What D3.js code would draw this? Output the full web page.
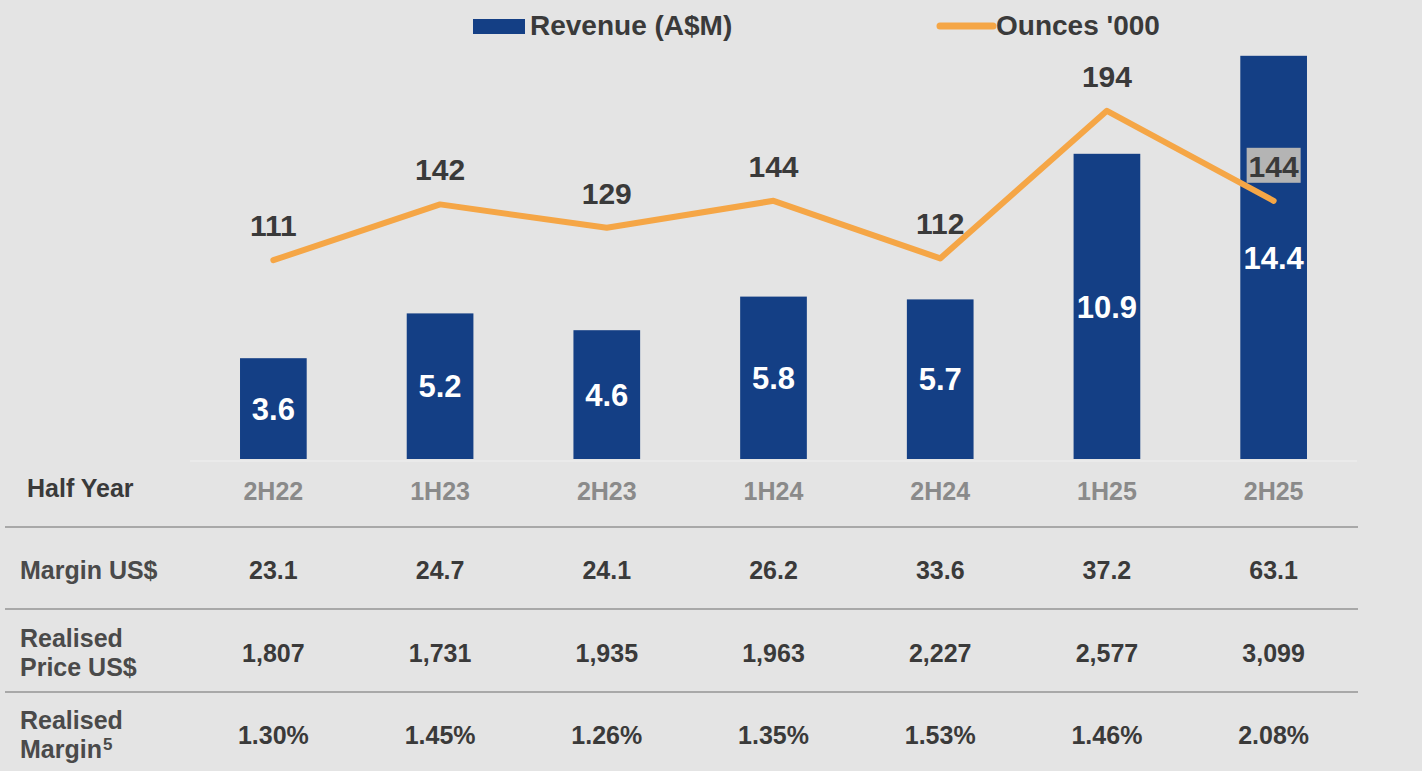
<!DOCTYPE html>
<html><head><meta charset="utf-8">
<script src="https://cdn.jsdelivr.net/npm/d3@7"></script>
<style>
html,body{margin:0;padding:0;background:#e4e4e4;}
svg{display:block;}
</style></head>
<body>
<script>
const categories = ["2H22","1H23","2H23","1H24","2H24","1H25","2H25"];
const revenue = [3.6,5.2,4.6,5.8,5.7,10.9,14.4];
const ounces = [111,142,129,144,112,194,144];
const marginUS = ["23.1","24.7","24.1","26.2","33.6","37.2","63.1"];
const realisedPrice = ["1,807","1,731","1,935","1,963","2,227","2,577","3,099"];
const realisedMargin = ["1.30%","1.45%","1.26%","1.35%","1.53%","1.46%","2.08%"];

const W = 1422, H = 771;
const svg = d3.select("body").append("svg").attr("width", W).attr("height", H);
svg.append("rect").attr("width", W).attr("height", H).attr("fill", "#e4e4e4");

const font = "'Liberation Sans', Arial, sans-serif";
const dark = "#3a3a3a";

const x = d3.scaleBand().domain(categories).range([190, 1357]).paddingInner(0.6).paddingOuter(0.3);
const yBar = d3.scaleLinear().domain([0, 16]).range([459, 11]);
const yLine = d3.scaleLinear().domain([0, 250]).range([460, 10]);
const cx = c => x(c) + x.bandwidth() / 2;

// faint baseline cell border
svg.append("line").attr("x1", 190).attr("x2", 1357).attr("y1", 461).attr("y2", 461)
  .attr("stroke", "#ececec").attr("stroke-width", 1.5);

// bars
svg.selectAll("rect.bar").data(revenue).join("rect").attr("class","bar")
  .attr("x", (d,i) => x(categories[i]))
  .attr("width", x.bandwidth())
  .attr("y", d => yBar(d))
  .attr("height", d => yBar(0) - yBar(d))
  .attr("fill", "#143f85");

// bar labels
svg.selectAll("text.blab").data(revenue).join("text").attr("class","blab")
  .attr("x", (d,i) => cx(categories[i]))
  .attr("y", d => (yBar(d) + yBar(0)) / 2)
  .attr("dy", "0.36em")
  .attr("text-anchor", "middle")
  .attr("font-family", font).attr("font-weight", 700).attr("font-size", 31)
  .attr("fill", "#ffffff")
  .text(d => d.toFixed(1));

// line
const line = d3.line().x((d,i) => cx(categories[i])).y(d => yLine(d));
svg.append("path").datum(ounces).attr("d", line)
  .attr("fill", "none").attr("stroke", "#f5a646").attr("stroke-width", 6)
  .attr("stroke-linejoin", "round").attr("stroke-linecap", "round");

// line labels
ounces.forEach((d,i) => {
  const lx = cx(categories[i]), ly = yLine(d) - 35;
  if (i === ounces.length - 1) {
    svg.append("rect").attr("x", lx - 27).attr("y", ly - 18).attr("width", 54).attr("height", 35)
      .attr("fill", "#b4b4b4");
  }
  svg.append("text").attr("x", lx).attr("y", ly).attr("dy", "0.36em")
    .attr("text-anchor", "middle")
    .attr("font-family", font).attr("font-weight", 700).attr("font-size", 30)
    .attr("fill", dark).text(d);
});

// legend
svg.append("rect").attr("x", 473).attr("y", 19).attr("width", 52).attr("height", 15).attr("fill", "#143f85");
svg.append("text").attr("x", 530).attr("y", 35)
  .attr("font-family", font).attr("font-weight", 700).attr("font-size", 28)
  .attr("fill", dark).text("Revenue (A$M)");
svg.append("line").attr("x1", 940).attr("x2", 993).attr("y1", 26).attr("y2", 26)
  .attr("stroke", "#f5a646").attr("stroke-width", 7).attr("stroke-linecap", "round");
svg.append("text").attr("x", 996).attr("y", 35)
  .attr("font-family", font).attr("font-weight", 700).attr("font-size", 28)
  .attr("fill", dark).text("Ounces '000");

// table
const labelFont = 25;
svg.append("text").attr("x", 27).attr("y", 488).attr("dy", "0.36em")
  .attr("font-family", font).attr("font-weight", 700).attr("font-size", labelFont)
  .attr("fill", dark).text("Half Year");
svg.selectAll("text.cat").data(categories).join("text").attr("class","cat")
  .attr("x", d => cx(d)).attr("y", 491).attr("dy", "0.36em")
  .attr("text-anchor", "middle")
  .attr("font-family", font).attr("font-weight", 700).attr("font-size", labelFont)
  .attr("fill", "#8a8a8a").text(d => d);

[527, 609, 692].forEach(yy => {
  svg.append("line").attr("x1", 5).attr("x2", 1358).attr("y1", yy).attr("y2", yy)
    .attr("stroke", "#a8a8a8").attr("stroke-width", 2);
});

const rows = [
  {label: ["Margin US$"], vals: marginUS, y: 570},
  {label: ["Realised", "Price US$"], vals: realisedPrice, y: 653},
  {label: ["Realised", "Margin"], vals: realisedMargin, y: 735, sup: true}
];
rows.forEach(r => {
  const t = svg.append("text").attr("font-family", font).attr("font-weight", 700)
    .attr("font-size", labelFont).attr("fill", "#4a4a4a");
  if (r.label.length === 1) {
    t.attr("x", 20).attr("y", r.y).attr("dy", "0.36em").text(r.label[0]);
  } else {
    t.attr("x", 20).attr("y", r.y - 15).attr("dy", "0.36em");
    r.label.forEach((l, k) => {
      t.append("tspan").attr("x", 20).attr("dy", k === 0 ? "0.36em" : "1.16em").text(l);
    });
    if (r.sup) {
      t.append("tspan").attr("font-size", 17).attr("dx", 1).attr("dy", "-0.5em").text("5");
    }
  }
  svg.selectAll(null).data(r.vals).join("text")
    .attr("x", (d,i) => cx(categories[i])).attr("y", r.y).attr("dy", "0.36em")
    .attr("text-anchor", "middle")
    .attr("font-family", font).attr("font-weight", 700).attr("font-size", labelFont)
    .attr("fill", dark).text(d => d);
});
</script>
</body></html>
